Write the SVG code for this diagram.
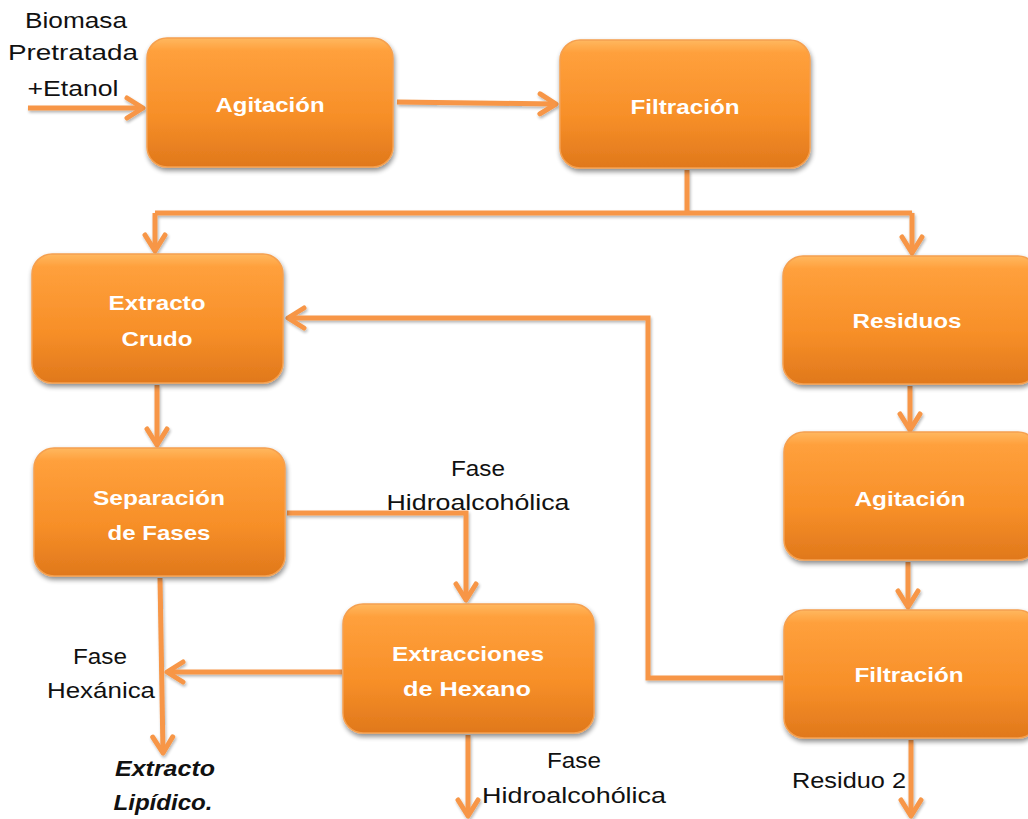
<svg xmlns="http://www.w3.org/2000/svg" width="1028" height="819" viewBox="0 0 1028 819">
<defs>
<linearGradient id="g" x1="0" y1="0" x2="0" y2="1">
<stop offset="0" stop-color="#FFB860"/>
<stop offset="0.1" stop-color="#FFA03C"/>
<stop offset="0.6" stop-color="#F78F28"/>
<stop offset="1" stop-color="#E0781C"/>
</linearGradient>
<filter id="sh" x="-10%" y="-10%" width="130%" height="130%">
<feGaussianBlur in="SourceAlpha" stdDeviation="2.5"/>
<feOffset dx="1" dy="3" result="b"/>
<feComponentTransfer><feFuncA type="linear" slope="0.45"/></feComponentTransfer>
<feMerge><feMergeNode/><feMergeNode in="SourceGraphic"/></feMerge>
</filter>
<filter id="lsh" x="-5%" y="-5%" width="110%" height="110%">
<feGaussianBlur in="SourceAlpha" stdDeviation="1.5"/>
<feOffset dx="1" dy="2"/>
<feComponentTransfer><feFuncA type="linear" slope="0.3"/></feComponentTransfer>
<feMerge><feMergeNode/><feMergeNode in="SourceGraphic"/></feMerge>
</filter>
<marker id="a" markerUnits="userSpaceOnUse" viewBox="0 0 22 26" markerWidth="22" markerHeight="26" refX="19" refY="13" orient="auto">
<path d="M3,3 L19,13 L3,23" fill="none" stroke="#F79646" stroke-width="5" stroke-linecap="round" stroke-linejoin="round"/>
</marker>
</defs>
<style>
.box{fill:url(#g);stroke:#F5A050;stroke-width:1.5;filter:url(#sh)}
.bt{font-family:"Liberation Sans",Arial,sans-serif;font-weight:bold;font-size:21px;fill:#FFFFFF;text-anchor:middle}
.lb{font-family:"Liberation Sans",Arial,sans-serif;font-size:22px;fill:#111111;text-anchor:middle}
.it{font-style:italic;font-weight:bold}
.c{fill:none;stroke:#F79646;stroke-width:5;stroke-linejoin:miter}
.ar{marker-end:url(#a)}
</style>
<rect width="1028" height="819" fill="#FFFFFF"/>

<g id="connectors" filter="url(#lsh)">
<path class="c ar" d="M28,108 H143"/>
<path class="c ar" d="M397,102 L556,104"/>
<path class="c" d="M687,170 V213"/>
<path class="c" d="M155,213 H912"/>
<path class="c ar" d="M155,213 V251"/>
<path class="c ar" d="M912,213 V253"/>
<path class="c ar" d="M783,678 H648 V318 H288"/>
<path class="c ar" d="M157,385 V445"/>
<path class="c ar" d="M287,513 H466 V600"/>
<path class="c ar" d="M160,578 L163,753"/>
<path class="c ar" d="M342,672 H167"/>
<path class="c ar" d="M468,735 V816"/>
<path class="c ar" d="M910,386 V430"/>
<path class="c ar" d="M908,562 V607"/>
<path class="c ar" d="M911,740 V816"/>
</g>

<g id="agitacion1"><rect class="box" x="147" y="38" width="246" height="129" rx="20"/><text class="bt" x="270" y="112" textLength="109" lengthAdjust="spacingAndGlyphs">Agitación</text></g>
<g id="filtracion1"><rect class="box" x="560" y="40" width="250" height="128" rx="20"/><text class="bt" x="685" y="114" textLength="109" lengthAdjust="spacingAndGlyphs">Filtración</text></g>
<g id="extracto-crudo"><rect class="box" x="32" y="254" width="251" height="129" rx="20"/><text class="bt" x="157" y="310" textLength="97" lengthAdjust="spacingAndGlyphs">Extracto</text><text class="bt" x="157" y="346" textLength="71" lengthAdjust="spacingAndGlyphs">Crudo</text></g>
<g id="residuos"><rect class="box" x="783" y="256" width="255" height="128" rx="20"/><text class="bt" x="907" y="328" textLength="109" lengthAdjust="spacingAndGlyphs">Residuos</text></g>
<g id="separacion"><rect class="box" x="34" y="448" width="251" height="128" rx="20"/><text class="bt" x="159" y="505" textLength="132" lengthAdjust="spacingAndGlyphs">Separación</text><text class="bt" x="159" y="540" textLength="103" lengthAdjust="spacingAndGlyphs">de Fases</text></g>
<g id="agitacion2"><rect class="box" x="784" y="432" width="254" height="128" rx="20"/><text class="bt" x="910" y="506" textLength="111" lengthAdjust="spacingAndGlyphs">Agitación</text></g>
<g id="extracciones"><rect class="box" x="343" y="604" width="251" height="129" rx="20"/><text class="bt" x="468" y="661" textLength="152" lengthAdjust="spacingAndGlyphs">Extracciones</text><text class="bt" x="467" y="696" textLength="128" lengthAdjust="spacingAndGlyphs">de Hexano</text></g>
<g id="filtracion2"><rect class="box" x="784" y="610" width="254" height="128" rx="20"/><text class="bt" x="909" y="682" textLength="109" lengthAdjust="spacingAndGlyphs">Filtración</text></g>

<g id="labels">
<text class="lb" x="76" y="28" textLength="102" lengthAdjust="spacingAndGlyphs">Biomasa</text>
<text class="lb" x="73" y="60" textLength="130" lengthAdjust="spacingAndGlyphs">Pretratada</text>
<text class="lb" x="73" y="96" textLength="91" lengthAdjust="spacingAndGlyphs">+Etanol</text>
<text class="lb" x="478" y="476" textLength="54" lengthAdjust="spacingAndGlyphs">Fase</text>
<text class="lb" x="478" y="510" textLength="183" lengthAdjust="spacingAndGlyphs">Hidroalcohólica</text>
<text class="lb" x="100" y="664" textLength="54" lengthAdjust="spacingAndGlyphs">Fase</text>
<text class="lb" x="101" y="698" textLength="108" lengthAdjust="spacingAndGlyphs">Hexánica</text>
<text class="lb it" x="165" y="776" textLength="100" lengthAdjust="spacingAndGlyphs">Extracto</text>
<text class="lb it" x="163" y="810" textLength="99" lengthAdjust="spacingAndGlyphs">Lipídico.</text>
<text class="lb" x="574" y="768" textLength="54" lengthAdjust="spacingAndGlyphs">Fase</text>
<text class="lb" x="574" y="803" textLength="184" lengthAdjust="spacingAndGlyphs">Hidroalcohólica</text>
<text class="lb" x="849" y="788" textLength="114" lengthAdjust="spacingAndGlyphs">Residuo 2</text>
</g>
</svg>
